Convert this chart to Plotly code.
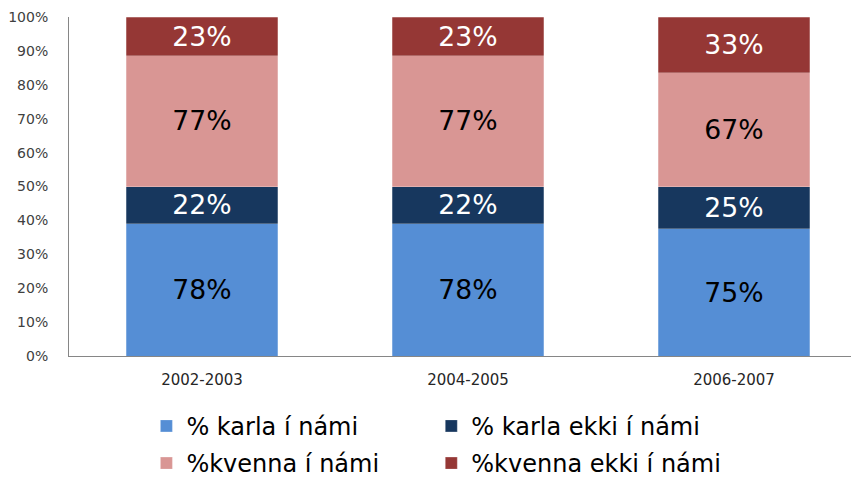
import plotly.graph_objects as go

categories = ["2002-2003", "2004-2005", "2006-2007"]
series_names = ["% karla í námi", "% karla ekki í námi", "%kvenna í námi", "%kvenna ekki í námi"]
karla_i_nami = [78, 78, 75]
karla_ekki = [22, 22, 25]
kvenna_i_nami = [77, 77, 67]
kvenna_ekki = [23, 23, 33]
y_ticks = [0, 10, 20, 30, 40, 50, 60, 70, 80, 90, 100]

colors = ["#558ED5", "#17375E", "#D99694", "#953735"]
text_colors = ["#000000", "#FFFFFF", "#000000", "#FFFFFF"]
values = [karla_i_nami, karla_ekki, kvenna_i_nami, kvenna_ekki]
legend_ids = ["legend", "legend2", "legend", "legend2"]

fig = go.Figure()
for i, (name, vals, c, tc, lg) in enumerate(zip(series_names, values, colors, text_colors, legend_ids)):
    fig.add_trace(go.Bar(
        x=categories, y=vals, name=name, legend=lg, legendgroup=f"g{i}",
        marker=dict(color=c, line=dict(color="rgba(255,255,255,0.5)", width=0.5)),
        width=0.571,
        text=[f"{v}%" for v in vals], textposition="inside",
        insidetextanchor="middle", textangle=0,
        textfont=dict(family="DejaVu Sans", size=29, color=tc),
        hoverinfo="skip",
    ))

legend_common = dict(orientation="v", y=-0.141, xanchor="left", yanchor="top",
                     traceorder="grouped", tracegroupgap=3, bgcolor="rgba(0,0,0,0)",
                     font=dict(size=24, color="#000000"), itemwidth=30)

fig.update_layout(
    width=859, height=485,
    barmode="stack", barnorm="percent",
    margin=dict(l=61, r=0, t=9, b=137),
    plot_bgcolor="white", paper_bgcolor="white",
    font=dict(family="DejaVu Sans", color="#404040"),
    uniformtext=dict(minsize=8, mode="show"),
    xaxis=dict(range=[-0.5, 2.5], showline=True, linecolor="#868686", linewidth=1,
               ticks="", tickfont=dict(size=15, color="#262626"), showgrid=False,
               ticklabelstandoff=10, automargin=False),
    yaxis=dict(range=[0, 100], tickvals=y_ticks, ticktext=[f"{t}%" for t in y_ticks],
               showline=True, linecolor="#868686", linewidth=1, showgrid=False,
               ticks="", tickfont=dict(size=14, color="#404040"), zeroline=False,
               ticklabelstandoff=17, automargin=False),
    legend=dict(x=0.097, **legend_common),
    legend2=dict(x=0.454, **legend_common),
    showlegend=True,
)
fig.write_html("out.html")
